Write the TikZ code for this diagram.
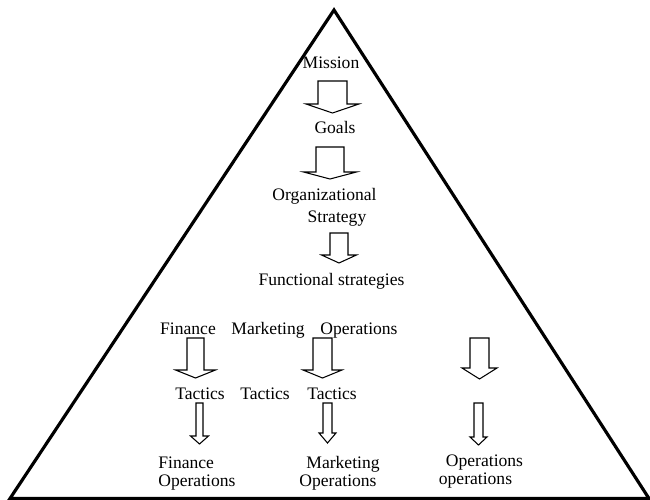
\documentclass[tikz,border=0pt]{standalone}
\usepackage{fontspec}
\setmainfont{Liberation Serif}
\tikzset{
  label/.style={inner sep=0pt, anchor=base, font=\fontsize{10}{12}\selectfont},
  hollow/.style={draw=black, line width=0.6pt, line join=miter, fill=white}
}
\begin{document}
\begin{tikzpicture}[x=0.02cm, y=-0.02cm]
\useasboundingbox (0,0) rectangle (650,500);

% Pyramid
\coordinate (apex) at (334,10);
\coordinate (bl) at (10,498.5);
\coordinate (br) at (649,498.5);
\draw[line width=1.8pt, line join=miter] (bl) -- (apex) -- (br) -- cycle;

% Block arrows: centre / shaft half / head half / top / base / tip
\foreach \c/\s/\h/\t/\b/\p in {332.5/14.5/26.5/81/104/113, 330/14/26.5/147/172/179,
    339/9/17.5/233/255/263, 195.5/8.5/20/338/370/378, 322.5/9.5/19.5/338/370/378,
    479.5/9.5/17.5/338/368/379, 199.5/3.5/9/403/436/444, 327.5/4.5/8.5/403/433/443,
    478.5/4.5/8.5/403/437/445} {
  \draw[hollow] (\c-\s,\t) -- (\c-\s,\b) -- (\c-\h,\b) -- (\c,\p)
    -- (\c+\h,\b) -- (\c+\s,\b) -- (\c+\s,\t) -- cycle;
}

% Top levels
\node[label] (mission) at (331,69) {Mission};
\node[label] (goals) at (335,134) {Goals};
\node[label] (org) at (324.5,201) {Organizational};
\node[label] (strategy) at (337,223) {Strategy};
\node[label] (functional) at (331.5,286) {Functional strategies};

% Functions
\node[label] (finance) at (188,335) {Finance};
\node[label] (marketing) at (268,335) {Marketing};
\node[label] (operations) at (359,335) {Operations};

% Tactics
\node[label] (tacticsF) at (200,399) {Tactics};
\node[label] (tacticsM) at (265,399) {Tactics};
\node[label] (tacticsO) at (332,399) {Tactics};

% Operations level
\node[label, anchor=base west] (finops) at (158,468) {Finance};
\node[label, anchor=base west] (finopsB) at (158,486) {Operations};
\node[label] (mktops) at (343,468) {Marketing};
\node[label] (mktopsB) at (338,486) {Operations};
\node[label] (opsops) at (484.5,466) {Operations};
\node[label] (opsopsB) at (475.5,484) {operations};

\end{tikzpicture}
\end{document}
